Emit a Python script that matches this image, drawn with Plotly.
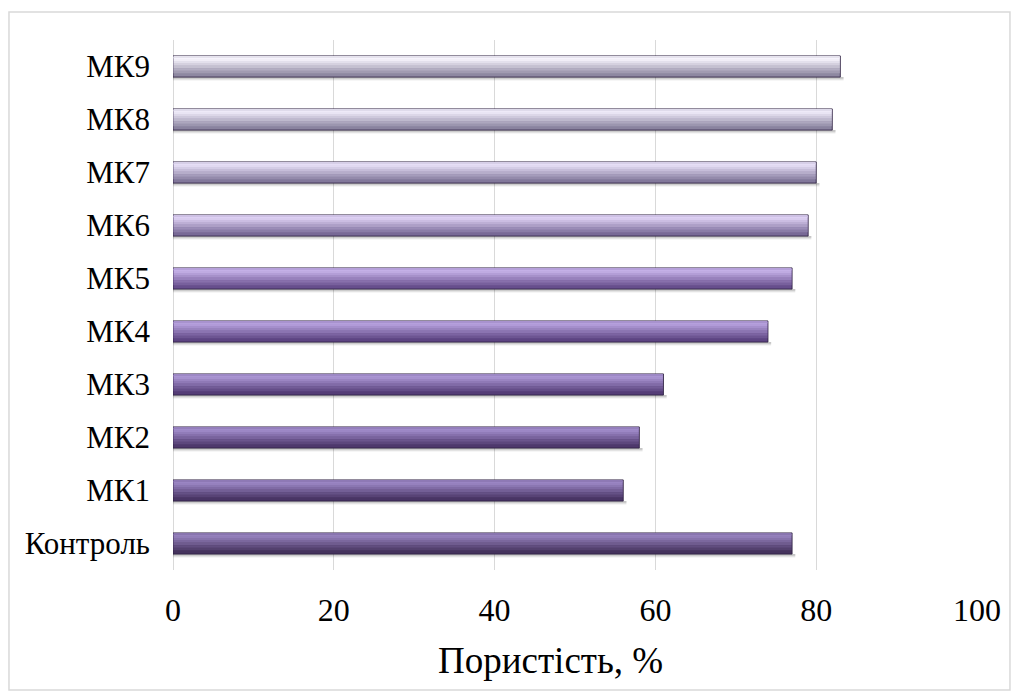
import plotly.graph_objects as go

# Porosity of the samples, %
categories = ["Контроль", "МК1", "МК2", "МК3", "МК4", "МК5", "МК6", "МК7", "МК8", "МК9"]
porosity = [77, 56, 58, 61, 74, 77, 79, 80, 82, 83]

# Per-bar shading: dark lower edge and light upper highlight
body_colors = ["#45335d", "#493565", "#4e386c", "#553d77", "#5d4482", "#674e8d",
               "#786996", "#82789b", "#8a839f", "#8e88a1"]
light_colors = ["#9581bd", "#9a85c3", "#a08bca", "#aa95d3", "#b5a0dc", "#c4b0e7",
                "#ddd0f3", "#e6def6", "#eeeaf8", "#f6f3fc"]

FONT = "Liberation Serif, Times New Roman, serif"
BAR_W = 0.4


def hex_rgb(h):
    h = h.lstrip("#")
    return tuple(int(h[i:i + 2], 16) for i in (0, 2, 4))


def mix(c1, c2, t):
    a, b = hex_rgb(c1), hex_rgb(c2)
    return "rgb(%d,%d,%d)" % tuple(round(a[i] + (b[i] - a[i]) * t) for i in range(3))


fig = go.Figure()

# soft shadow under each bar
for k, alpha in enumerate([0.05, 0.08, 0.11]):
    fig.add_trace(go.Bar(y=categories, x=[v + 0.4 for v in porosity], orientation="h",
                         offset=-BAR_W / 2 - 0.07 + k * 0.02, width=0.07 - k * 0.02,
                         marker=dict(color="rgba(0,0,0,%.2f)" % alpha, line=dict(width=0)),
                         hoverinfo="skip", showlegend=False))

# bar body with outline
fig.add_trace(go.Bar(y=categories, x=porosity, orientation="h",
                     offset=-BAR_W / 2, width=BAR_W,
                     marker=dict(color=body_colors,
                                 line=dict(color="rgba(45,32,65,0.85)", width=1)),
                     showlegend=False))

# vertical gradient strips: dark at the bottom, lightest near the top edge
stops = [(0.18, 0.18), (0.30, 0.35), (0.42, 0.52), (0.54, 0.68), (0.66, 0.82),
         (0.76, 0.95), (0.86, 1.0), (0.93, 0.85)]
for i, (f0, t) in enumerate(stops):
    f1 = stops[i + 1][0] if i + 1 < len(stops) else 0.985
    fig.add_trace(go.Bar(y=categories, x=[v - 0.12 for v in porosity], orientation="h",
                         base=0.06,
                         offset=-BAR_W / 2 + f0 * BAR_W, width=(f1 - f0) * BAR_W,
                         marker=dict(color=[mix(b, l, t) for b, l in zip(body_colors, light_colors)],
                                     line=dict(width=0)),
                         hoverinfo="skip", showlegend=False))

fig.update_layout(
    width=1019, height=697,
    margin=dict(l=173, r=42, t=40, b=127),
    paper_bgcolor="white", plot_bgcolor="white",
    barmode="overlay",
    font=dict(family=FONT, color="black"),
    xaxis=dict(range=[0, 100], dtick=20, showgrid=True,
               gridcolor="#d9d9d9", gridwidth=1,
               zeroline=True, zerolinecolor="#d9d9d9", zerolinewidth=1,
               showline=False, ticks="", ticklabelstandoff=18,
               tickfont=dict(size=32, family=FONT)),
    yaxis=dict(showgrid=False, showline=False, ticks="",
               ticklabelstandoff=22,
               tickfont=dict(size=31, family=FONT),
               range=[-0.5, 9.5]),
    annotations=[dict(text="Пористість, %", xref="paper", yref="paper",
                      x=0.47, y=-0.17, xanchor="center", yanchor="middle",
                      showarrow=False, font=dict(size=37, family=FONT))],
    shapes=[dict(type="rect", xref="paper", yref="paper",
                 x0=-0.204, x1=1.041, y0=-0.2264, y1=1.0528,
                 line=dict(color="#d9d9d9", width=1.5), fillcolor="rgba(0,0,0,0)",
                 layer="below")],
)

fig.write_html("out.html")
